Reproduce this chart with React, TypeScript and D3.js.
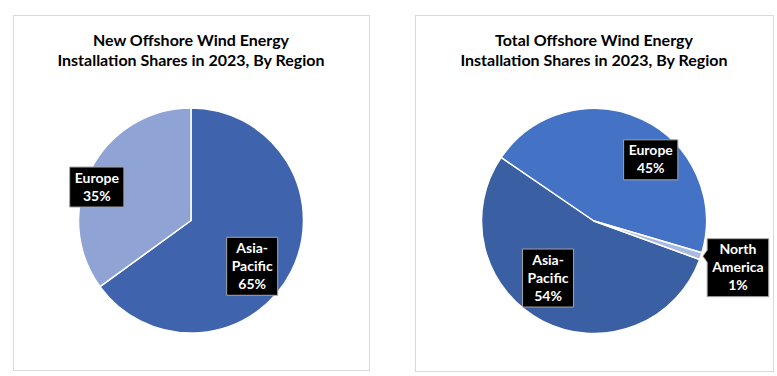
import React, { useEffect, useRef } from "react";
import * as d3 from "d3";

// ---- data ----
const newTitle = ["New Offshore Wind Energy", "Installation Shares in 2023, By Region"];
const newRegions = ["Asia-Pacific", "Europe"];
const newShares = [65, 35];

const totalTitle = ["Total Offshore Wind Energy", "Installation Shares in 2023, By Region"];
const totalRegions = ["Asia-Pacific", "Europe", "North America"];
const totalShares = [54, 45, 1];

// label line breaks (text content)
const labelLines: Record<string, string[]> = {
  "Asia-Pacific": ["Asia-", "Pacific"],
  "Europe": ["Europe"],
  "North America": ["North", "America"],
};

// ---- styling / layout ----
const W = 777, H = 376;
const FONT = "Lato, 'Open Sans', sans-serif";

type PanelCfg = {
  x: number; y: number; w: number; h: number;
  cx: number; cy: number; r: number;
  startDeg: number;
  colors: string[];
  title: string[];
  regions: string[];
  shares: number[];
  labelR: number[];
  nudge: [number, number][];
  callout: boolean[];
};

const panels: PanelCfg[] = [
  {
    x: 13, y: 15, w: 356, h: 355,
    cx: 191, cy: 220.5, r: 112.5,
    startDeg: 0,
    colors: ["#3F63AC", "#8FA3D4"],
    title: newTitle, regions: newRegions, shares: newShares,
    labelR: [0.74, 0.89],
    nudge: [[-13, 8], [-5, 12]],
    callout: [false, false],
  },
  {
    x: 415, y: 15, w: 358, h: 356,
    cx: 594, cy: 221, r: 112.5,
    startDeg: 110,
    colors: ["#3A5FA2", "#4472C4", "#A9BAE2"],
    title: totalTitle, regions: totalRegions, shares: totalShares,
    labelR: [0.66, 0.72, 1.3],
    nudge: [[-12, -9], [22, 12], [5, 1]],
    callout: [false, false, true],
  },
];

export default function App() {
  const ref = useRef<SVGSVGElement>(null);

  useEffect(() => {
    const svg = d3.select(ref.current);
    svg.selectAll("*").remove();
    svg.append("rect").attr("width", W).attr("height", H).attr("fill", "#fff");

    panels.forEach((p) => {
      const g = svg.append("g");
      g.append("rect")
        .attr("x", p.x + 0.5).attr("y", p.y + 0.5)
        .attr("width", p.w).attr("height", p.h)
        .attr("fill", "#fff").attr("stroke", "#D9D9D9").attr("stroke-width", 1);

      const tcx = p.cx;
      p.title.forEach((t, i) => {
        g.append("text")
          .attr("x", tcx).attr("y", 45.5 + i * 20)
          .attr("text-anchor", "middle")
          .attr("font-family", FONT).attr("font-weight", 700)
          .attr("font-size", 16).attr("fill", "#000")
          .text(t);
      });

      const start = (p.startDeg * Math.PI) / 180;
      const pie = d3.pie<number>().sort(null).value((d) => d)
        .startAngle(start).endAngle(start + 2 * Math.PI);
      const arcs = pie(p.shares);
      const arc = d3.arc<d3.PieArcDatum<number>>().innerRadius(0).outerRadius(p.r);

      const pg = g.append("g").attr("transform", `translate(${p.cx},${p.cy})`);
      pg.selectAll("path").data(arcs).join("path")
        .attr("d", arc)
        .attr("fill", (_, i) => p.colors[i])
        .attr("stroke", "#fff").attr("stroke-width", 1.5)
        .attr("stroke-linejoin", "round");

      arcs.forEach((a, i) => {
        const mid = (a.startAngle + a.endAngle) / 2;
        const lr = p.r * p.labelR[i];
        const lx = p.cx + Math.sin(mid) * lr + p.nudge[i][0];
        const ly = p.cy - Math.cos(mid) * lr + p.nudge[i][1];
        const lines = [...labelLines[p.regions[i]], `${p.shares[i]}%`];
        const lg = g.append("g");
        const box = lg.append("path");
        const lh = 18;
        const top = ly - (lines.length * lh) / 2;
        const texts = lines.map((t, j) =>
          lg.append("text")
            .attr("x", lx).attr("y", top + lh * j + 13.5)
            .attr("text-anchor", "middle")
            .attr("font-family", FONT).attr("font-weight", 700)
            .attr("font-size", 14).attr("fill", "#fff")
            .text(t)
        );
        const maxW = d3.max(texts, (t) => (t.node() as SVGTextElement).getComputedTextLength()) || 0;
        const bw = maxW + 10;
        const bh = lines.length * lh + 4;
        const x0 = lx - bw / 2, y0 = ly - bh / 2;
        let d = "";
        if (p.callout[i]) {
          // pointer towards the slice's outer edge
          const ex = p.cx + Math.sin(mid) * p.r;
          const ey = p.cy - Math.cos(mid) * p.r;
          const pyc = Math.min(Math.max(ey, y0 + 8), y0 + bh - 8);
          d = `M${x0},${y0}H${x0 + bw}V${y0 + bh}H${x0}V${pyc + 6}L${ex + 2},${ey}L${x0},${pyc - 6}Z`;
        } else {
          d = `M${x0},${y0}H${x0 + bw}V${y0 + bh}H${x0}Z`;
        }
        box.attr("d", d).attr("fill", "#000").attr("stroke", "#A6A6A6").attr("stroke-width", 1);
      });
    });
  }, []);

  return (
    <svg
      ref={ref}
      width={W}
      height={H}
      style={{ position: "absolute", left: 0, top: 0 }}
    />
  );
}
